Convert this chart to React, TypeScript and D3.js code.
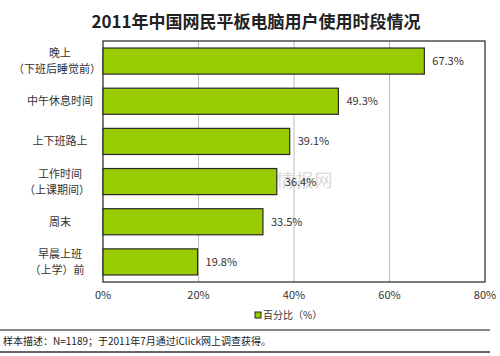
import React from "react";
import * as d3 from "d3";

const categories = [
  ["晚上", "（下班后睡觉前）"],
  ["中午休息时间"],
  ["上下班路上"],
  ["工作时间", "（上课期间）"],
  ["周末"],
  ["早晨上班", "（上学）前"],
];
const values = [67.3, 49.3, 39.1, 36.4, 33.5, 19.8];
const xTicks = [0, 20, 40, 60, 80];
const title = "2011年中国网民平板电脑用户使用时段情况";
const legendLabel = "百分比（%）";
const note = "样本描述：N=1189；于2011年7月通过iClick网上调查获得。";
const watermark = "中国产业竞争情报网";

const W = 500, H = 356;
const left = 103, right = 485, top = 41, bottom = 282;
const font = "'Noto Sans CJK SC', 'Noto Sans', sans-serif";

export default function App() {
  const x = d3.scaleLinear().domain([0, 80]).range([left, right]);
  const y = d3
    .scaleBand<number>()
    .domain(values.map((_, i) => i))
    .range([top, bottom])
    .paddingInner(0.35)
    .paddingOuter(0.175);

  return (
    <svg
      width={W}
      height={H}
      style={{ position: "absolute", left: 0, top: 0, background: "#fff" }}
      fontFamily={font}
    >
      <rect x={0} y={0} width={W} height={H} fill="#fff" />
      <text x={256} y={28} textAnchor="middle" fontSize={17} fontWeight="bold" fill="#222">
        {title}
      </text>
      {xTicks.slice(1, -1).map((t) => (
        <line key={t} x1={x(t)} x2={x(t)} y1={top} y2={bottom} stroke="#bbb" strokeWidth={1} />
      ))}
      <rect x={left} y={top} width={right - left} height={bottom - top} fill="none" stroke="#222" strokeWidth={1.2} />
      <text x={248} y={187} textAnchor="middle" fontSize={18} fill="#bbb" opacity={0.55} letterSpacing={1}>
        {watermark}
      </text>
      {values.map((v, i) => (
        <g key={i}>
          <rect
            x={x(0)}
            y={y(i)}
            width={x(v) - x(0)}
            height={y.bandwidth()}
            fill="#99CC00"
            stroke="#2a2a2a"
            strokeWidth={1.2}
          />
          <text
            x={x(v) + 8}
            y={(y(i) as number) + y.bandwidth() / 2 + 4}
            fontSize={11}
            fill="#333"
          >
            {v.toFixed(1)}%
          </text>
          {categories[i].map((line, j) => {
            const n = categories[i].length;
            const cy = (y(i) as number) + y.bandwidth() / 2 + 4 + (j - (n - 1) / 2) * 16;
            return (
              <text key={j} x={line.startsWith("（") ? 57 : 60} y={cy} textAnchor="middle" fontSize={11} fill="#333">
                {line}
              </text>
            );
          })}
        </g>
      ))}
      {xTicks.map((t) => (
        <text key={t} x={x(t)} y={299} textAnchor="middle" fontSize={11} fill="#333">
          {t}%
        </text>
      ))}
      <rect x={255} y={312} width={6} height={6} fill="#99CC00" stroke="#222" strokeWidth={1} />
      <text x={263} y={319} fontSize={10} fill="#333">
        {legendLabel}
      </text>
      <line x1={0} x2={490} y1={330} y2={330} stroke="#888" strokeWidth={2} />
      <text x={3} y={345} fontSize={10} fill="#222">
        {note}
      </text>
      <line x1={0} x2={490} y1={352} y2={352} stroke="#333" strokeWidth={1.5} />
    </svg>
  );
}
